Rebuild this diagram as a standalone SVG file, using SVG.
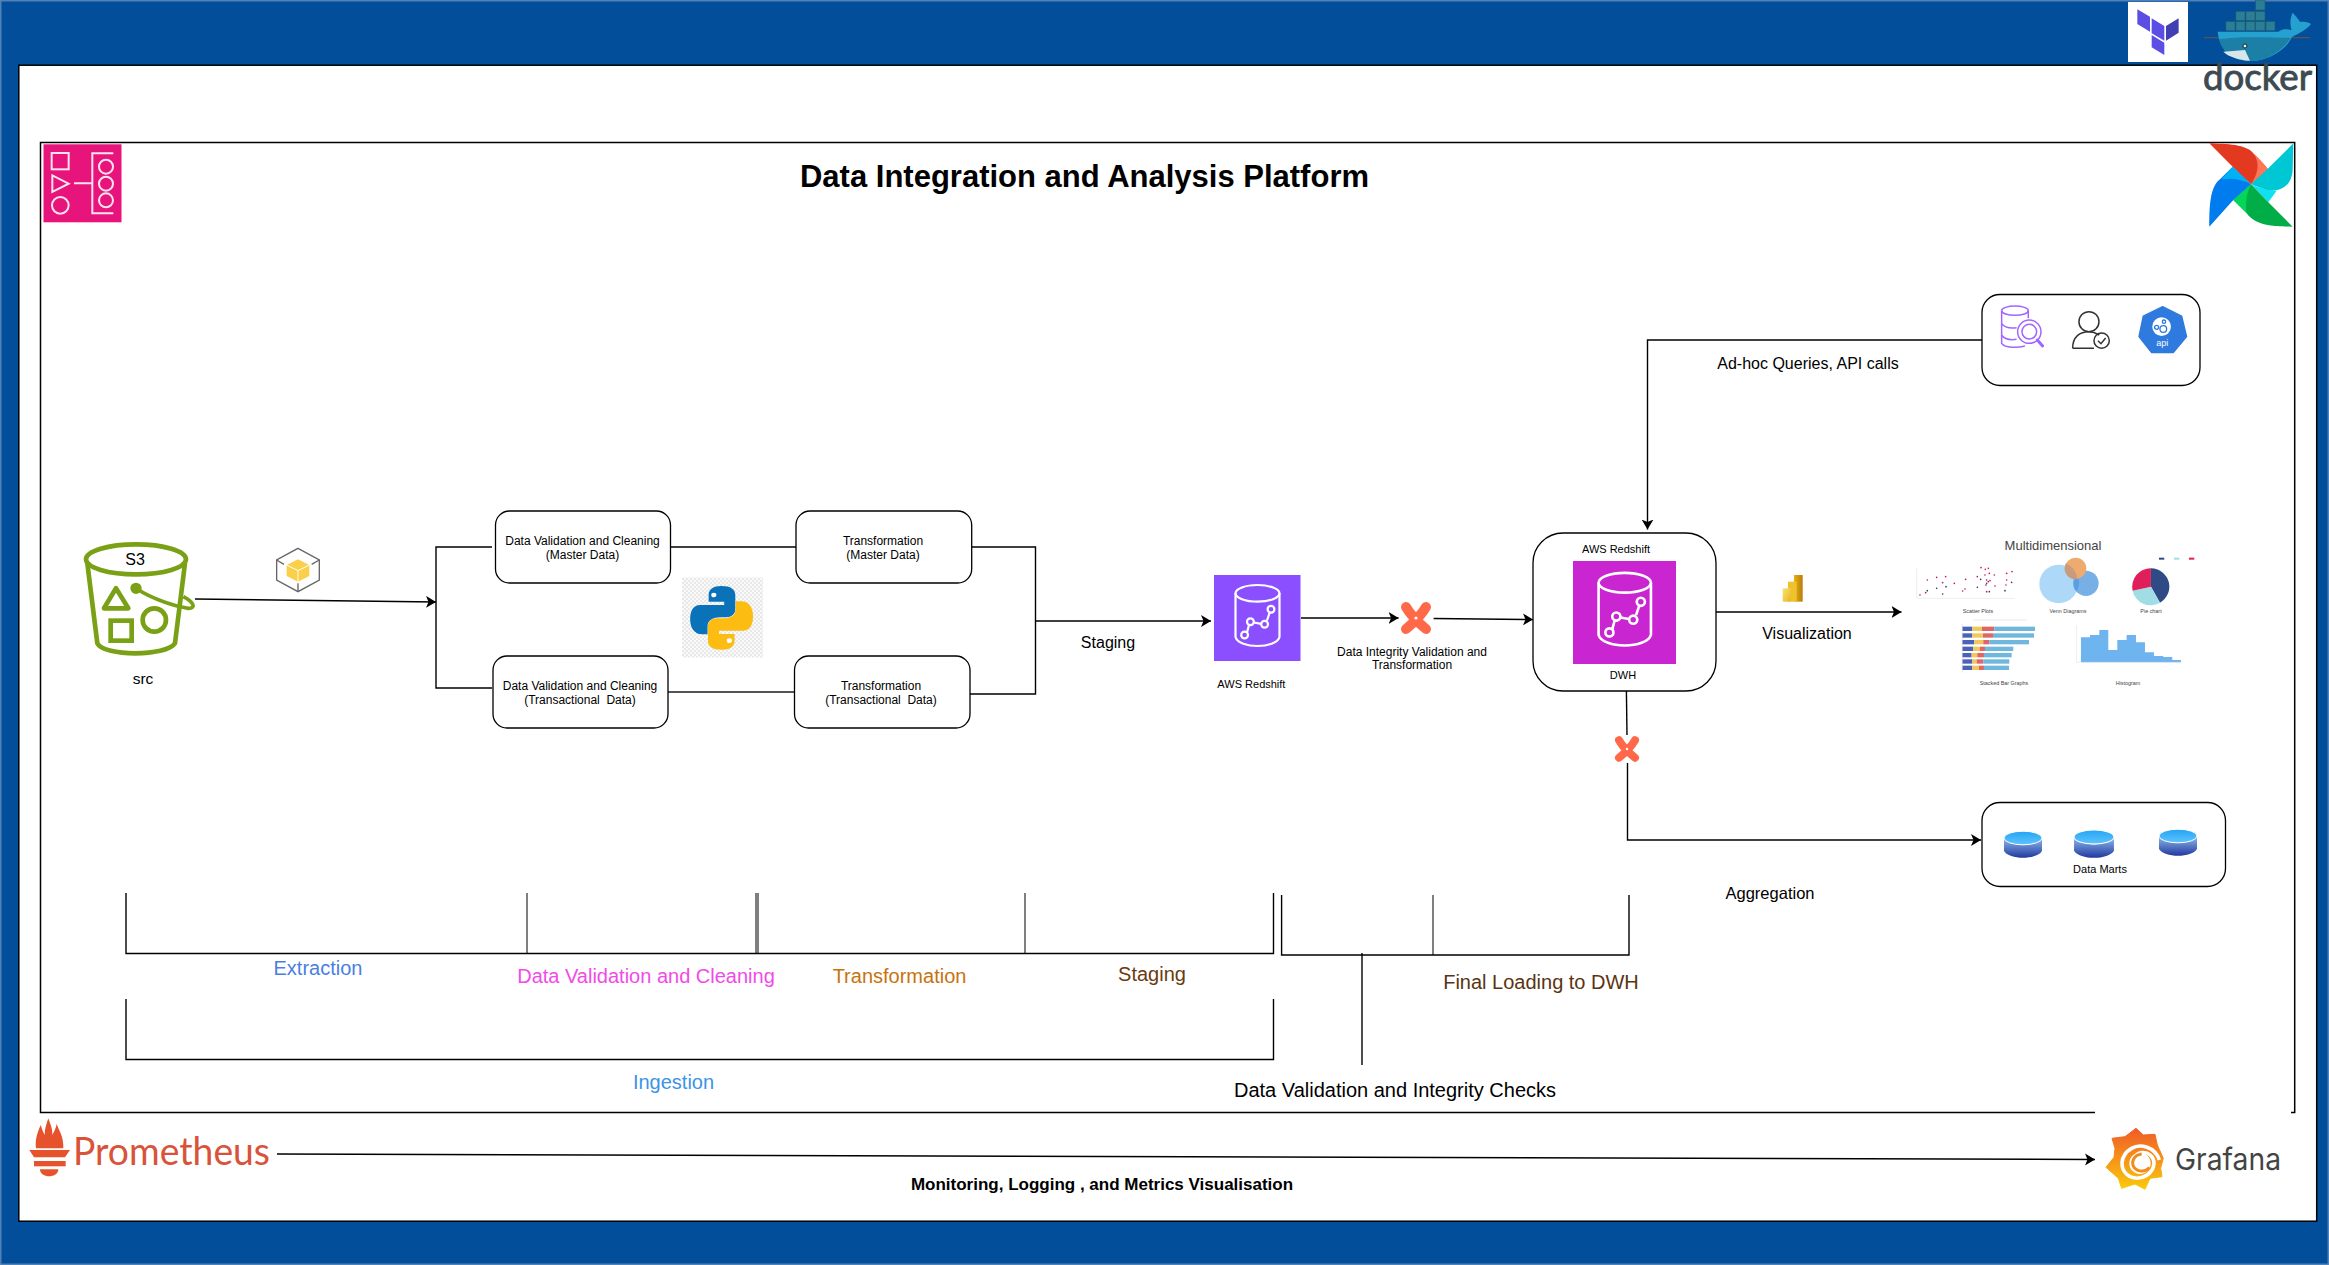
<svg xmlns="http://www.w3.org/2000/svg" width="2329" height="1265" viewBox="0 0 2329 1265">
<style>
text{font-family:"Liberation Sans",Arial,sans-serif;fill:#000}
.m{text-anchor:middle}
.s{font-size:12px}
.b{font-size:16px}
.l{font-size:20px}
.t{font-size:5.4px;fill:#444;text-anchor:middle}
.box{fill:#fff;stroke:#000;stroke-width:1.3}
.c{fill:none;stroke:#000;stroke-width:1.4}
.a{marker-end:url(#arr)}
.w{fill:none;stroke:#fff;stroke-width:2.2}
.dbt{fill:none;stroke:#ff694a;stroke-width:10;stroke-linecap:round}
</style>
<defs>
<marker id="arr" viewBox="0 0 10 12" refX="10" refY="6" markerWidth="10" markerHeight="12" markerUnits="userSpaceOnUse" orient="auto"><path d="M0,0L10,6L0,12L2.5,6Z" fill="#000"/></marker>
<pattern id="chk" width="4" height="4" patternUnits="userSpaceOnUse"><rect width="4" height="4" fill="#fafafa"/><rect width="2" height="2" fill="#e8e8e8"/><rect x="2" y="2" width="2" height="2" fill="#e8e8e8"/></pattern>
<linearGradient id="cylB" x1="0" y1="0" x2="0" y2="1"><stop offset="0" stop-color="#8fbcec"/><stop offset="1" stop-color="#2238a0"/></linearGradient>
<linearGradient id="cylT" x1="0" y1="0" x2="0" y2="1"><stop offset="0" stop-color="#22a5f5"/><stop offset="1" stop-color="#60c4fb"/></linearGradient>
<linearGradient id="gf" x1="0" y1="0" x2="0" y2="1"><stop offset="0" stop-color="#f05a28"/><stop offset="1" stop-color="#fbca0a"/></linearGradient>
<linearGradient id="pb1" x1="0" y1="0" x2="1" y2="1"><stop offset="0" stop-color="#f9e27a"/><stop offset="1" stop-color="#e8b71c"/></linearGradient>
<linearGradient id="pb2" x1="0" y1="0" x2="1" y2="0"><stop offset="0" stop-color="#e8b010"/><stop offset="1" stop-color="#b97c0c"/></linearGradient>
<g id="rs"><ellipse class="w" cx="43.5" cy="18.3" rx="22" ry="8.3"/><path class="w" d="M21.5,18.3V62C25,74 62,74 65.5,62V18.3"/><path class="w" d="M33,57.500L35,50M40,47.500L47,48.800M53,45.500L55.500,38"/><circle class="w" cx="30.600" cy="60" r="3.400"/><circle class="w" cx="36.400" cy="46.700" r="3.400"/><circle class="w" cx="50.600" cy="49.300" r="3.400"/><circle class="w" cx="57" cy="34.300" r="3.400"/></g>
<g id="dbtx"><path class="dbt" d="M-10,-11C-6,-4 4,6 10,11M10,-11C6,-4 -4,6 -10,11"/><circle r="1.600" fill="#fff"/></g>
<g id="cyl"><path d="M-19,0V13C-14,22 14,22 19,13V0Z" fill="url(#cylB)"/><ellipse cy="0" rx="19" ry="6.800" fill="url(#cylT)" stroke="#fff" stroke-width="1"/></g>
</defs>

<g id="frame">
<rect x="0.800" y="0.800" width="2327.400" height="1263.400" fill="#034e9b" stroke="#4a7db5" stroke-width="1.500"/>
<rect x="18.800" y="65.200" width="2297.900" height="1156" fill="#fff" stroke="#000" stroke-width="1.500"/>
<path d="M2291,1112.500H2294.700V142.500H40.500V1112.500H2095" fill="none" stroke="#000" stroke-width="1.500"/>
</g>

<g id="title"><text class="m" x="1084.500" y="187" font-size="31" style="font-weight:bold">Data Integration and Analysis Platform</text></g>

<g id="step-functions-icon">
<rect x="43.500" y="144.300" width="78" height="78" fill="#e7157b"/>
<g transform="scale(.3333)" fill="none" stroke="#fbe3ef" stroke-width="6">
<rect x="155" y="459" width="51" height="49"/><path d="M157,526L206,551L157,576Z"/><circle cx="181" cy="616" r="25"/><path d="M222,550H275M340,460H277V640H340"/><circle cx="318" cy="500" r="21"/><circle cx="318" cy="551" r="21"/><circle cx="318" cy="601" r="21"/>
</g></g>

<g id="terraform-icon">
<rect x="2128" y="2" width="60" height="60" fill="#fff"/>
<g transform="translate(2050,0) scale(.3333)">
<path d="M262,28L300,50V95L262,72Z" fill="#5c4ee5"/><path d="M305,55L343,78V122L305,100Z" fill="#5c4ee5"/><path d="M348,78L386,55V98L348,122Z" fill="#4040b2"/><path d="M305,105L343,128V165L305,142Z" fill="#5c4ee5"/>
</g></g>

<g id="docker-icon"><g transform="translate(2050,0) scale(.3333)">
<path d="M462,113H780" stroke="#555" stroke-width="4"/>
<g fill="#2a7f96" stroke="#1f5f73" stroke-width="2"><rect x="617" y="0" width="28" height="30"/><rect x="558" y="34" width="27" height="27"/><rect x="588" y="34" width="27" height="27"/><rect x="617" y="34" width="28" height="27"/><rect x="528" y="65" width="27" height="27"/><rect x="558" y="65" width="27" height="27"/><rect x="588" y="65" width="27" height="27"/><rect x="617" y="65" width="28" height="27"/><rect x="648" y="65" width="27" height="27"/></g>
<path d="M503,95L685,95C700,85 712,88 725,90C718,70 722,50 728,38C740,50 748,62 750,65C760,65 775,65 783,72C770,90 745,100 725,112C710,150 650,185 600,183C540,180 510,150 503,95Z" fill="#24a1cf"/>
<path d="M508,118C560,108 660,112 722,114C700,150 650,185 600,183C545,180 518,155 508,118Z" fill="#1b7fa6"/>
<path d="M520,155L585,150L600,182C565,180 535,170 520,155Z" fill="#d6e6ea"/>
<circle cx="585" cy="138" r="6" fill="#e8f4f7" stroke="#123" stroke-width="3"/>
</g>
<text x="2203" y="90" font-size="37" textLength="109" lengthAdjust="spacingAndGlyphs" style="font-family:Lato,'Liberation Sans',sans-serif;fill:#3d4a52;stroke:#3d4a52;stroke-width:.9">docker</text>
</g>

<g id="airflow-icon"><g transform="translate(2050,0) scale(.3333)">
<path d="M478,430C530,432 590,432 612,462C630,480 650,500 655,510C640,525 620,540 603,553L548,500Z" fill="#e43921"/>
<path d="M612,462C630,480 650,500 655,510L603,553C625,520 630,490 612,462Z" fill="#ff7557"/>
<path d="M730,430L728,510C725,560 690,575 655,572L603,553L655,505Z" fill="#00c7d4"/>
<path d="M603,553C630,565 660,572 680,572L655,607Z" fill="#11e1ee"/>
<path d="M728,680C680,680 620,680 590,640L550,600L603,553L655,607Z" fill="#00ad46"/>
<path d="M603,553L550,600L590,640C585,610 590,580 603,553Z" fill="#04d659"/>
<path d="M478,680C478,620 480,560 510,538L548,500L603,553L550,600Z" fill="#017cee"/>
<path d="M548,500L603,553C570,535 535,535 515,538Z" fill="#00b1f5"/>
</g></g>

<g id="connectors">
<path class="c a" d="M195,599L436,602"/>
<path class="c" d="M492,547H436V688H492"/>
<path class="c" d="M670.500,547H796"/>
<path class="c" d="M668,692H794.500" style="stroke:#555;stroke-width:2"/>
<path class="c" d="M971.700,547H1035.500V694H970"/>
<path class="c a" d="M1035.500,621H1211"/>
<path class="c a" d="M1301,618H1398.600"/>
<path class="c a" d="M1433.600,618.500L1533,619.500"/>
<path class="c a" d="M1982,340H1647.500V529.500"/>
<path class="c a" d="M1716,612H1901.500"/>
<path class="c" d="M1626.400,691L1627,735"/>
<path class="c a" d="M1627.500,763V840H1981"/>
<path class="c a" d="M277,1154L2095,1159.500"/>
</g>

<g id="brackets" fill="none" stroke="#000">
<path stroke-width="1.400" d="M126,893V953.500H1273.500V893"/>
<path stroke-width="1" d="M527,893V953M756,893V953M758,893V953M1025,893V953"/>
<path stroke-width="1.400" d="M1281.600,895V955H1629V895"/>
<path stroke-width="1" d="M1433,895V955"/>
<path stroke-width="1.400" d="M1362,953V1065"/>
<path stroke-width="1.400" d="M126,999V1059.500H1273.500V999"/>
</g>

<g id="stage-labels">
<text class="m l" x="318" y="975" style="fill:#4a7fe0">Extraction</text>
<text class="m l" x="646" y="983" style="fill:#f04be8">Data Validation and Cleaning</text>
<text class="m l" x="899.500" y="983" style="fill:#c8720f">Transformation</text>
<text class="m l" x="1152" y="981" style="fill:#6b3a10">Staging</text>
<text class="m l" x="1541" y="989" style="fill:#5a3410">Final Loading to DWH</text>
<text class="m l" x="673.500" y="1089" style="fill:#3d93e8">Ingestion</text>
<text class="m l" x="1395" y="1097">Data Validation and Integrity Checks</text>
<text class="m b" x="1108" y="648">Staging</text>
<text class="m b" x="1807" y="638.500">Visualization</text>
<text class="m" x="1770" y="899" font-size="16.500">Aggregation</text>
<text class="m" x="1808" y="369" font-size="16">Ad-hoc Queries, API calls</text>
<text class="m" x="1102" y="1190" font-size="17" style="font-weight:bold">Monitoring, Logging , and Metrics Visualisation</text>
</g>

<g id="s3"><g transform="translate(60,500) scale(.3333)" fill="none" stroke="#7aa116" stroke-width="14">
<ellipse cx="228" cy="178" rx="150" ry="45"/><path d="M82,190L112,430C130,470 320,470 345,430L375,190"/>
<path d="M168,265L205,325H132Z" stroke-linejoin="round"/><rect x="152" y="362" width="63" height="60"/><circle cx="283" cy="360" r="35"/>
<circle cx="228" cy="265" r="10" fill="#7aa116"/><path d="M228,265C280,300 350,320 385,325C410,325 400,305 370,290" stroke-width="11"/>
</g>
<text class="m" x="135" y="565" font-size="16">S3</text><text class="m" x="143" y="684" font-size="15.500">src</text></g>

<g id="extract-icon"><g transform="translate(60,500) scale(.3333)">
<path d="M714,145L778,180V240L714,275L650,240V180Z" fill="none" stroke="#666" stroke-width="4"/><path d="M650,180L672,193M778,180L755,193M714,275V250" stroke="#666" stroke-width="4"/>
<path d="M714,178L748,195V228L714,245L680,228V195Z" fill="#fccf4b"/><path d="M680,195L714,212L748,195M714,212V245" fill="none" stroke="#fff" stroke-width="3"/>
</g></g>

<g id="dvc-master"><rect class="box" x="495.500" y="511" width="175" height="72" rx="14"/><text class="m s" x="582.500" y="545">Data Validation and Cleaning</text><text class="m s" x="582.500" y="559">(Master Data)</text></g>
<g id="trans-master"><rect class="box" x="796" y="511" width="175.700" height="72" rx="14"/><text class="m s" x="883" y="545">Transformation</text><text class="m s" x="883" y="559">(Master Data)</text></g>
<g id="dvc-trans"><rect class="box" x="493" y="656" width="175" height="72" rx="14"/><text class="m s" x="580" y="690">Data Validation and Cleaning</text><text class="m s" x="580" y="704" xml:space="preserve">(Transactional  Data)</text></g>
<g id="trans-trans"><rect class="box" x="794.500" y="656" width="175.500" height="72" rx="14"/><text class="m s" x="881" y="690">Transformation</text><text class="m s" x="881" y="704" xml:space="preserve">(Transactional  Data)</text></g>

<g id="python"><rect x="682" y="577.500" width="81" height="80" fill="url(#chk)"/>
<g transform="translate(480,500) scale(.37,.3333)">
<path d="M652,258C625,258 618,272 618,285V305H660V315H595C575,315 568,335 568,358C568,385 580,403 600,403H615V380C615,360 630,352 650,352H665C680,352 690,342 690,328V285C690,268 678,258 652,258Z" fill="#0a72b8"/>
<path d="M652,258C625,258 618,272 618,285V305H660V315H595C575,315 568,335 568,358C568,385 580,403 600,403H615V380C615,360 630,352 650,352H665C680,352 690,342 690,328V285C690,268 678,258 652,258Z" fill="#fdbc11" transform="rotate(180 653 353.500)"/>
<circle cx="632" cy="285" r="7" fill="#fff"/><circle cx="674" cy="422" r="7" fill="#fff"/>
</g></g>

<g id="redshift-staging"><rect x="1214" y="575" width="86.500" height="86" fill="#8c4fff"/><use href="#rs" transform="translate(1214,575)"/><text class="m" x="1251.400" y="688" font-size="11">AWS Redshift</text></g>

<g id="dbt-1"><use href="#dbtx" x="1416" y="618"/><text class="m" x="1412" y="656" font-size="12">Data Integrity Validation and</text><text class="m" x="1412" y="669" font-size="12">Transformation</text></g>

<g id="dwh"><rect class="box" x="1533" y="533" width="183" height="158" rx="30"/><text class="m" x="1616" y="553" font-size="11">AWS Redshift</text><rect x="1573" y="561" width="103" height="103" fill="#c925d1"/><use href="#rs" transform="translate(1573,561) scale(1.19)"/><text class="m" x="1623" y="679" font-size="11">DWH</text></g>

<g id="dbt-2"><use href="#dbtx" transform="translate(1627,749) scale(.8)"/></g>

<g id="query-box"><rect class="box" x="1982" y="294.500" width="218" height="91" rx="18"/>
<g transform="translate(1740,280) scale(.3333)">
<g fill="none" stroke="#a166ff" stroke-width="4.500"><ellipse cx="825" cy="92" rx="40" ry="14"/><path d="M785,92V190C795,205 835,203 855,198M865,92V115M785,130C795,145 815,145 830,143M785,165C795,180 815,180 830,178"/><circle cx="868" cy="155" r="35"/><circle cx="868" cy="155" r="22"/><path d="M892,180L908,198" stroke-width="9" stroke-linecap="round"/></g>
<g fill="none" stroke="#333" stroke-width="4.500"><circle cx="1047" cy="125" r="30"/><path d="M998,205C998,170 1020,155 1047,155C1060,155 1070,160 1078,165M998,205H1062"/><circle cx="1085" cy="182" r="23"/><path d="M1074,182L1083,191L1097,174"/></g>
<path d="M1268,80L1325,108L1340,170L1300,218H1235L1197,170L1210,108Z" fill="#2f7ade" stroke="#2f7ade" stroke-width="4" stroke-linejoin="round"/>
<circle cx="1265" cy="140" r="28" fill="#fff"/>
<g fill="none" stroke="#2f7ade" stroke-width="4"><circle cx="1270" cy="147" r="10"/><circle cx="1250" cy="142" r="6"/><circle cx="1272" cy="125" r="5"/></g>
<text class="m" x="1267" y="197" font-size="27" style="fill:#fff">api</text>
</g></g>

<g id="powerbi"><g transform="translate(1720,520) scale(.3333)">
<rect x="222" y="165" width="26" height="80" fill="url(#pb2)"/><rect x="204" y="185" width="26" height="60" fill="#eec22c"/><rect x="188" y="205" width="24" height="40" fill="url(#pb1)"/>
</g></g>

<g id="charts">
<text class="m" x="2053" y="550" font-size="13" style="fill:#444">Multidimensional</text>
<g transform="translate(1720,520) scale(.3333)">
<path d="M590,145V235H885" fill="none" stroke="#ddd" stroke-width="1.500"/>
<g fill="#c2185b"><circle cx="600" cy="225" r="2.500"/><circle cx="617" cy="218" r="2.500"/><circle cx="622" cy="180" r="2.500"/><circle cx="650" cy="172" r="2.500"/><circle cx="668" cy="188" r="2.500"/><circle cx="677" cy="170" r="2.500"/><circle cx="703" cy="190" r="2.500"/><circle cx="737" cy="178" r="2.500"/><circle cx="728" cy="213" r="2.500"/><circle cx="735" cy="207" r="2.500"/><circle cx="783" cy="143" r="2.500"/><circle cx="796" cy="148" r="2.500"/><circle cx="805" cy="145" r="2.500"/><circle cx="772" cy="170" r="2.500"/><circle cx="795" cy="165" r="2.500"/><circle cx="808" cy="160" r="2.500"/><circle cx="823" cy="165" r="2.500"/><circle cx="800" cy="190" r="2.500"/><circle cx="810" cy="182" r="2.500"/><circle cx="805" cy="185" r="2.500"/><circle cx="825" cy="198" r="2.500"/><circle cx="860" cy="160" r="2.500"/><circle cx="876" cy="155" r="2.500"/><circle cx="860" cy="180" r="2.500"/><circle cx="858" cy="195" r="2.500"/><circle cx="800" cy="215" r="2.500"/></g>
<g fill="#2b3f70"><circle cx="622" cy="212" r="2.500"/><circle cx="650" cy="205" r="2.500"/><circle cx="678" cy="200" r="2.500"/><circle cx="668" cy="222" r="2.500"/><circle cx="782" cy="178" r="2.500"/><circle cx="772" cy="202" r="2.500"/><circle cx="800" cy="180" r="2.500"/><circle cx="808" cy="215" r="2.500"/><circle cx="855" cy="212" r="2.500"/><circle cx="798" cy="195" r="2.500"/><circle cx="875" cy="187" r="2.500"/></g>
<circle cx="1016" cy="192" r="58" fill="#aed8f8"/><circle cx="1098" cy="190" r="38" fill="#78b0e6"/><path d="M1072,162A58,58 0 0 1 1070,215A38,38 0 0 1 1072,162Z" fill="#5a9fe4"/><circle cx="1067" cy="145" r="32" fill="#efaa70"/><path d="M1038,130A58,58 0 0 1 1072,177A32,32 0 0 1 1038,130Z" fill="#c79c7c"/>
<path d="M1293,200V145A55,55 0 0 1 1320,248Z" fill="#2f4a85"/><path d="M1293,200L1320,248A55,55 0 0 1 1238,212Z" fill="#a0dde4"/><path d="M1293,200L1238,212A55,55 0 0 1 1293,145Z" fill="#e01e5a"/>
<rect x="1317" y="113" width="16" height="6" fill="#2f4a85"/><rect x="1362" y="113" width="16" height="6" fill="#a0dde4"/><rect x="1407" y="113" width="16" height="6" fill="#e01e5a"/>
<g id="bars">
<rect x="727" y="320" width="30" height="13" fill="#4a62b8"/><rect x="757" y="320" width="29" height="13" fill="#f2c75c"/><rect x="786" y="320" width="37" height="13" fill="#e06666"/><rect x="823" y="320" width="122" height="13" fill="#6fb7dc"/>
<rect x="727" y="340" width="30" height="13" fill="#4a62b8"/><rect x="757" y="340" width="32" height="13" fill="#f2c75c"/><rect x="789" y="340" width="30" height="13" fill="#e06666"/><rect x="819" y="340" width="123" height="13" fill="#6fb7dc"/>
<rect x="727" y="360" width="36" height="13" fill="#4a62b8"/><rect x="763" y="360" width="27" height="13" fill="#f2c75c"/><rect x="790" y="360" width="18" height="13" fill="#e06666"/><rect x="808" y="360" width="119" height="13" fill="#6fb7dc"/>
<rect x="727" y="380" width="33" height="13" fill="#4a62b8"/><rect x="760" y="380" width="20" height="13" fill="#f2c75c"/><rect x="780" y="380" width="15" height="13" fill="#e06666"/><rect x="795" y="380" width="85" height="13" fill="#6fb7dc"/>
<rect x="727" y="399" width="28" height="13" fill="#4a62b8"/><rect x="755" y="399" width="17" height="13" fill="#f2c75c"/><rect x="772" y="399" width="20" height="13" fill="#e06666"/><rect x="792" y="399" width="83" height="13" fill="#6fb7dc"/>
<rect x="727" y="418" width="30" height="13" fill="#4a62b8"/><rect x="757" y="418" width="13" height="13" fill="#f2c75c"/><rect x="770" y="418" width="20" height="13" fill="#e06666"/><rect x="790" y="418" width="78" height="13" fill="#6fb7dc"/>
<rect x="727" y="437" width="30" height="13" fill="#4a62b8"/><rect x="757" y="437" width="20" height="13" fill="#f2c75c"/><rect x="777" y="437" width="15" height="13" fill="#e06666"/><rect x="792" y="437" width="75" height="13" fill="#6fb7dc"/>
<path d="M727,312V458M760,300H918" fill="none" stroke="#ccd" stroke-width="1.500"/>
</g>
<path d="M1083,427V352H1110V345H1138V330H1165V390H1192V360H1220V345H1248V367H1275V397H1302V408H1330V411H1357V420H1383V427Z" fill="#6eb4ef"/>
<path d="M1070,315V427H1385" fill="none" stroke="#ddd" stroke-width="1.500"/>
</g>
<text class="t" x="1978" y="613">Scatter Plots</text><text class="t" x="2068" y="613">Venn Diagrams</text><text class="t" x="2151" y="613">Pie chart</text><text class="t" x="2004" y="685">Stacked Bar Graphs</text><text class="t" x="2128" y="685">Histogram</text>
</g>

<g id="data-marts"><rect class="box" x="1982" y="802.500" width="243.500" height="84" rx="18"/>
<use href="#cyl" x="2023" y="838"/><use href="#cyl" transform="translate(2094,837) scale(1.05,1.05)"/><use href="#cyl" x="2178" y="836"/>
<text class="m" x="2100" y="873" font-size="11">Data Marts</text></g>

<g id="prometheus"><g transform="translate(0,1080) scale(.3333)" fill="#e6522c">
<path d="M145,115C150,130 158,145 157,165C162,155 168,145 170,132C176,150 192,170 190,205H108C104,175 116,150 122,135C126,148 130,158 134,165C134,145 140,130 145,115Z"/>
<path d="M88,210H210L195,232H102Z"/><rect x="102" y="243" width="95" height="16"/><path d="M120,268H175C175,296 120,296 120,268Z"/>
</g>
<text x="73" y="1165" font-size="38" textLength="197" lengthAdjust="spacingAndGlyphs" style="font-family:Lato,'Liberation Sans',sans-serif;fill:#d9533a">Prometheus</text></g>

<g id="grafana"><g transform="translate(2000,1080) scale(.3333)">
<path d="M408,145L430,165L465,163L472,195L490,235L482,265L486,290L450,295L435,328L405,312L365,325L355,295L318,262L342,232L345,205L336,175L375,170Z" fill="url(#gf)" stroke="url(#gf)" stroke-width="3" stroke-linejoin="round"/>
<path d="M478,240C465,200 420,190 395,205C360,225 355,270 390,290C425,305 460,280 462,250C462,230 445,215 425,218C405,222 395,240 402,258C408,270 425,275 435,265" fill="none" stroke="#fff" stroke-width="11"/>
<circle cx="420" cy="250" r="32" fill="#fff"/><path d="M448,262C440,275 415,278 402,262C392,245 402,225 425,222" fill="none" stroke="#f28a1c" stroke-width="9"/>
</g>
<text x="2175" y="1170" font-size="30" textLength="106" lengthAdjust="spacingAndGlyphs" style="font-family:Inter,'Liberation Sans',sans-serif;fill:#444">Grafana</text></g>
</svg>
